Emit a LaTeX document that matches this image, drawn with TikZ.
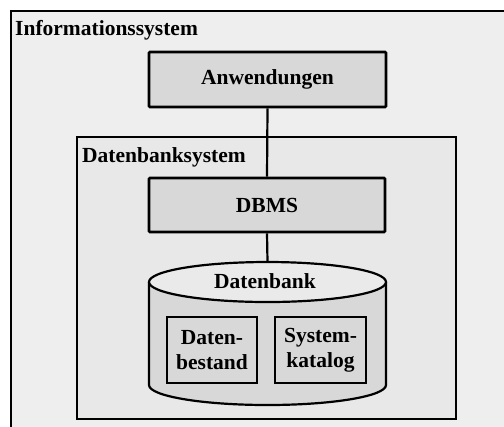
\documentclass[tikz,border=0pt]{standalone}
\usepackage{fontspec}
\setmainfont{Liberation Serif}
\begin{document}
\begin{tikzpicture}[x=1bp,y=-1bp,
  every node/.style={font=\fontsize{21.5bp}{25bp}\selectfont\bfseries, inner sep=0pt},
  outerbox/.style={draw=black, line width=2bp, fill=outerfill},
  sysbox/.style={draw=black, line width=2bp, fill=innerfill},
  compbox/.style={draw=black, line width=2.6bp, fill=boxfill, rounded corners=1bp},
  smallbox/.style={draw=black, line width=2.2bp, fill=boxfill, align=center},
  conn/.style={draw=black, line width=2.2bp},
  cyl/.style={draw=black, line width=2.2bp}
]
\definecolor{outerfill}{HTML}{EEEEEE}
\definecolor{innerfill}{HTML}{E8E8E8}
\definecolor{boxfill}{HTML}{D8D8D8}
\definecolor{topfill}{HTML}{EAEAEA}
\useasboundingbox (0,0) rectangle (504,426);
\clip (0,0) rectangle (504,426);
\fill[white] (0,0) rectangle (504,426);
% outer system
\draw[outerbox] (11,11) rectangle (520,440);
\node[anchor=west] (info) at (15,30) {Informationssystem};
% Datenbanksystem
\draw[sysbox] (77,137) rectangle (456,419);
\node[anchor=west] (dbsys) at (82,157) {Datenbanksystem};
% Anwendungen
\node[compbox, minimum width=237bp, minimum height=55bp] (anw) at (267.5,79.5) {Anwendungen};
% DBMS
\node[compbox, minimum width=236bp, minimum height=54bp] (dbms) at (267,205) {DBMS};
% cylinder
\fill[boxfill] (149,282) -- (149,385) arc[start angle=180, end angle=360, x radius=118.5bp, y radius=20bp] -- (386,282) -- cycle;
\draw[cyl] (149,282) -- (149,385) arc[start angle=180, end angle=360, x radius=118.5bp, y radius=20bp] -- (386,282);
\draw[cyl, fill=topfill] (267.5,282) ellipse[x radius=118.5bp, y radius=20bp];
\coordinate (cyltop) at (267.5,262);
\node (db) at (265,281) {Datenbank};
\node[smallbox, minimum width=90bp, minimum height=66bp] (bestand) at (212,350) {Daten-\\bestand};
\node[smallbox, minimum width=91bp, minimum height=66bp] (katalog) at (320.5,350) {System-\\katalog};
% connectors
\draw[conn] (anw.south) -- (dbms.north);
\draw[conn] (dbms.south) -- (cyltop);
\end{tikzpicture}
\end{document}
